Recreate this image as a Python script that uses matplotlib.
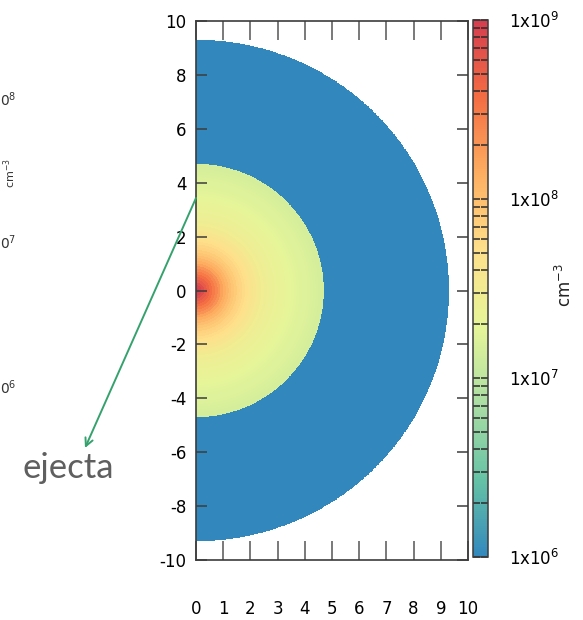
import numpy as np
import matplotlib.pyplot as plt
from matplotlib.colors import LogNorm, LinearSegmentedColormap
from matplotlib.ticker import LogLocator, NullFormatter

# radial density profile of the ejecta core (r, log10 n [cm^-3])
prof_r = [0.0, 0.25, 0.5, 0.75, 1.0, 1.25, 1.5, 1.85, 2.45, 3.0, 3.7, 4.4, 4.7]
prof_logn = [9.1, 8.85, 8.6, 8.4, 8.18, 8.0, 7.86, 7.71, 7.46, 7.36, 7.25, 7.19, 7.15]
r_core = 4.7       # edge of the dense core
r_shell = 9.3      # outer edge of the low density shell
n_shell = 1e6      # shell density

cbar_ticks = [1e6, 1e7, 1e8, 1e9]
cbar_labels = ['1x10$^{6}$', '1x10$^{7}$', '1x10$^{8}$', '1x10$^{9}$']
x_ticks = list(range(0, 11))
y_ticks = list(range(-10, 11, 2))

# 8-colour spectral palette, low -> high
palette = ['#3288BD', '#66C2A5', '#ABDDA4', '#E6F598',
           '#FEE08B', '#FDAE61', '#F46D43', '#D53E4F']

plt.rcParams['font.family'] = 'DejaVu Sans'
plt.rcParams['axes.unicode_minus'] = False
edge = '#3c3c3c'

cmap = LinearSegmentedColormap.from_list('spectral8', palette, N=256)
norm = LogNorm(vmin=1e6, vmax=1e9)

fig = plt.figure(figsize=(5.83, 6.2), dpi=100)
ax = fig.add_axes([196 / 583, 60 / 620, 272 / 583, 539 / 620])
cax = fig.add_axes([473 / 583, 63 / 620, 15 / 583, 537 / 620])

# polar mesh: thin shells for the core, one wide shell outside
theta = np.linspace(-np.pi / 2, np.pi / 2, 721)
r_edges = np.append(np.arange(0, r_core + 1e-6, 0.1), r_shell)
r_mid = 0.5 * (r_edges[:-1] + r_edges[1:])
n_mid = 10 ** np.interp(r_mid, prof_r, prof_logn)
n_mid[-1] = n_shell
R, T = np.meshgrid(r_edges, theta)
C = np.tile(n_mid, (len(theta) - 1, 1))
mesh = ax.pcolormesh(R * np.cos(T), R * np.sin(T), C, cmap=cmap, norm=norm,
                     shading='flat', rasterized=True)

ax.set_xlim(0, 10)
ax.set_ylim(-10, 10)
ax.set_xticks(x_ticks)
ax.set_yticks(y_ticks)
ax.tick_params(axis='y', direction='in', length=8, width=1.1, color=edge,
               left=True, right=True, labelsize=12, pad=7)
ax.tick_params(axis='x', direction='in', length=14, width=1.1, color='#555555',
               top=True, bottom=True, labelsize=12, pad=29)
for s in ax.spines.values():
    s.set_color(edge)
    s.set_linewidth(1.2)

cb = fig.colorbar(mesh, cax=cax)
cb.outline.set_edgecolor(edge)
cb.outline.set_linewidth(1.1)
cb.set_ticks(cbar_ticks)
cb.set_ticklabels(cbar_labels)
cax.yaxis.set_minor_locator(LogLocator(base=10, subs=np.arange(2, 10)))
cax.yaxis.set_minor_formatter(NullFormatter())
cax.tick_params(which='both', direction='in', left=True, right=True,
                length=5, width=1.1, color='#2a2a2a')
cax.tick_params(which='major', labelsize=12, pad=15)
fig.text(565 / 583, 1 - 285 / 620, 'cm$^{-3}$', rotation=90, fontsize=12,
         ha='center', va='center', color='#222222')

# edge of the neighbouring panel's colour scale
for lab, yp in [('0$^{8}$', 100), ('0$^{7}$', 243), ('0$^{6}$', 388)]:
    fig.text(0, 1 - yp / 620, lab, fontsize=10, ha='left', va='center',
             color='#333333')
fig.text(10 / 583, 1 - 173 / 620, 'cm$^{-3}$', rotation=90, fontsize=8,
         ha='center', va='center', color='#333333')

# annotation
fig.text(68 / 583, 1 - 468 / 620, 'ejecta', fontsize=25, family='Lato',
         ha='center', va='center', color='#5f5f5f')
ax.annotate('', xy=(85 / 583, 1 - 448 / 620), xycoords='figure fraction',
            xytext=(196 / 583, 1 - 198 / 620), textcoords='figure fraction',
            arrowprops=dict(arrowstyle='->', color='#35a26e', lw=1.4,
                            shrinkA=0, shrinkB=0, mutation_scale=14),
            annotation_clip=False)

fig.savefig('out.png', dpi=100)
